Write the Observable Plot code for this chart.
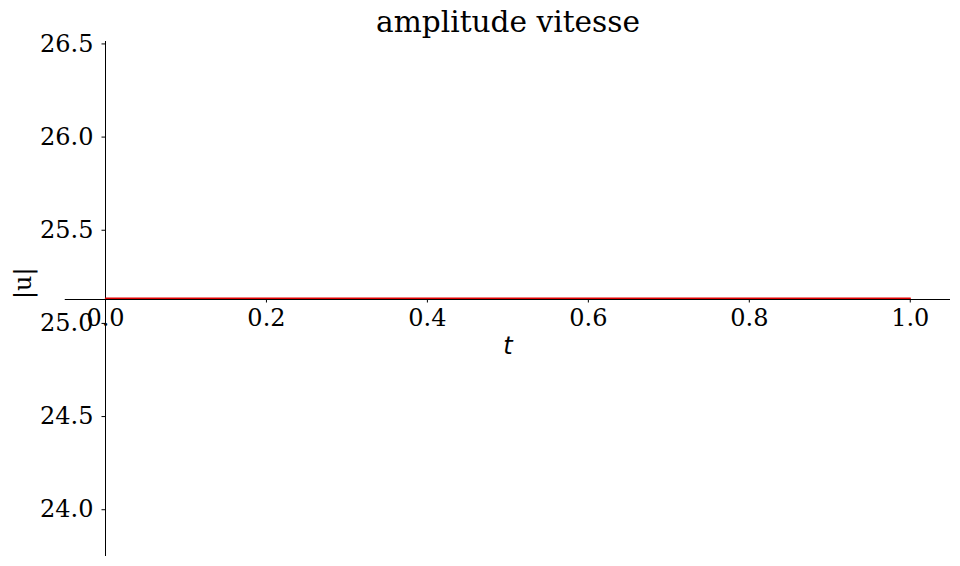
<!DOCTYPE html>
<html>
<head>
<meta charset="utf-8">
<script src="https://cdn.jsdelivr.net/npm/d3@7"></script>
<script src="https://cdn.jsdelivr.net/npm/@observablehq/plot@0.6"></script>
<style>
  html, body { margin: 0; padding: 0; background: #fff; }
  svg { display: block; }
</style>
</head>
<body>
<div id="chart"></div>
<script>
// Data
const tValues = [0, 0.25, 0.5, 0.75, 1.0];
const uValues = [25.1327, 25.1327, 25.1327, 25.1327, 25.1327];
const xTicks = [0.0, 0.2, 0.4, 0.6, 0.8, 1.0];
const yTicks = [24.0, 24.5, 25.0, 25.5, 26.0, 26.5];
const title = "amplitude vitesse";
const xLabel = "t";
const yLabel = "|u|";

const data = tValues.map((t, i) => ({t, u: uValues[i]}));
const yMin = 23.749, yMax = 26.513;
const yMid = (yMin + yMax) / 2;
const serif = "DejaVu Serif";
const fs = 24;

const chart = Plot.plot({
  width: 960,
  height: 566,
  marginLeft: 105,
  marginRight: 10,
  marginTop: 41,
  marginBottom: 10,
  style: {fontFamily: serif, background: "#fff", color: "#000"},
  x: {domain: [0, 1.05], axis: null},
  y: {domain: [yMin, yMax], axis: null},
  marks: [
    // y axis (spine at t = 0)
    Plot.axisY(yTicks, {
      anchor: "left", tickSize: 3.5, tickPadding: 8.5,
      tickFormat: d => d.toFixed(1), fontSize: fs, label: null,
      fontFamily: serif, stroke: "#000", fill: "#000"
    }),
    Plot.ruleX([0], {y1: yMin, y2: yMax, stroke: "#000", strokeWidth: 1}),
    // x axis (spine at centre)
    Plot.ruleY([yMid], {x1: -0.05, x2: 1.05, stroke: "#000", strokeWidth: 1, dy: 0.5}),
    Plot.ruleX(xTicks, {x: d => d, y1: yMid, y2: yMid, insetBottom: -3.5, stroke: "#000", dy: 0.5}),
    Plot.text(xTicks, {x: d => d, y: yMid, dy: 19, text: d => d.toFixed(1), fontSize: fs, fontFamily: serif, fill: "#000"}),
    Plot.text([xLabel], {x: 0.5, y: yMid, dy: 47, fontSize: fs, fontFamily: "DejaVu Sans", fontStyle: "oblique", fill: "#000"}),
    // data line
    Plot.line(data, {x: "t", y: "u", stroke: "#e00000", strokeWidth: 1.5, dy: -0.5}),
    // y label
    Plot.text([yLabel], {frameAnchor: "left", dx: -82, rotate: -90, fontSize: fs, fontFamily: serif, fill: "#000"}),
    // title
    Plot.text([title], {frameAnchor: "top", dx: -20, dy: -10, lineAnchor: "bottom", fontSize: 29.6, fontFamily: serif, fill: "#000"})
  ]
});
document.getElementById("chart").appendChild(chart);
</script>
</body>
</html>
